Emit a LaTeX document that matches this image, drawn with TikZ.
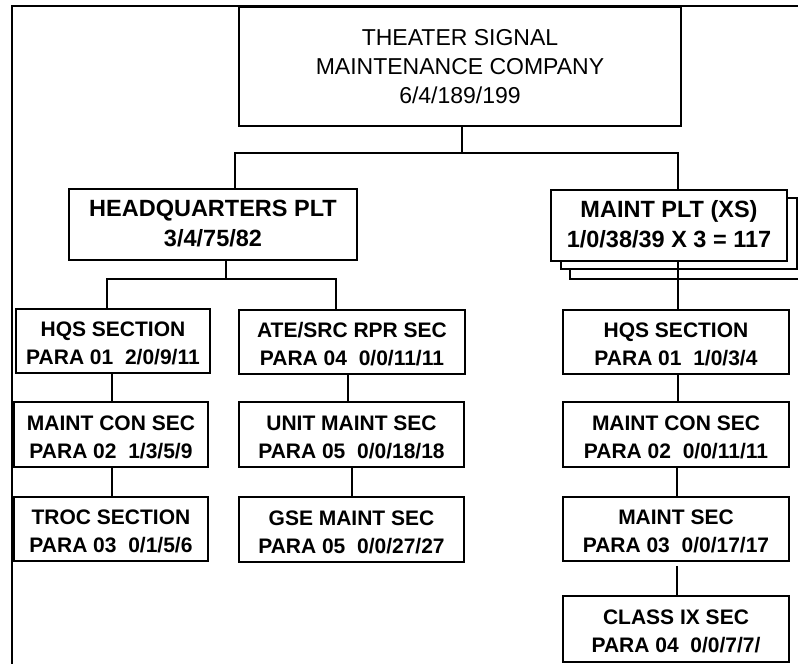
\documentclass[tikz,border=0pt]{standalone}
\usepackage{fontspec}
\setmainfont{Liberation Sans}
\newcommand{\lowtext}[2]{\raisebox{-#1}[\height][\depth]{\begin{tabular}{@{}c@{}}#2\end{tabular}}}
\begin{document}
\begin{tikzpicture}[x=1pt,y=-1pt,
  box/.style={draw=black,line width=1.6pt,fill=white,inner sep=0pt},
  bigtxt/.style={font=\fontsize{23}{29}\selectfont},
  plttxt/.style={font=\fontsize{23.5}{30}\selectfont\bfseries},
  sectxt/.style={font=\fontsize{21}{28}\selectfont\bfseries},
  conn/.style={line width=1.3pt}]
\useasboundingbox (0,0) rectangle (798,664);
\clip (0,0) rectangle (798,664);
% frame
\draw[line width=2pt] (12,670) -- (12,6) -- (804,6);
% top
\node[box,bigtxt,minimum width=442pt,minimum height=119pt] (top) at (460,66.5)
  {\lowtext{2pt}{THEATER SIGNAL\\MAINTENANCE COMPANY\\6/4/189/199}};
% platoons
\node[box,plttxt,minimum width=288pt,minimum height=71pt] (hq) at (213,224.5)
  {\lowtext{1pt}{HEADQUARTERS PLT\\3/4/75/82}};
\draw[line width=1.6pt,fill=white] (570,208) rectangle (806,279);
\draw[line width=1.6pt,fill=white] (561,198) rectangle (797,269);
\node[box,plttxt,minimum width=236pt,minimum height=71pt] (mp) at (669,225.5)
  {\lowtext{1pt}{MAINT PLT (XS)\\1/0/38/39 X 3 = 117}};
% left column
\node[box,sectxt,minimum width=194pt,minimum height=64pt] (hqsa) at (113,341)
  {\lowtext{4pt}{HQS SECTION\\PARA 01\ \ 2/0/9/11}};
\node[box,sectxt,minimum width=194pt,minimum height=65pt] (mcsa) at (111,434.5)
  {\lowtext{4pt}{MAINT CON SEC\\PARA 02\ \ 1/3/5/9}};
\node[box,sectxt,minimum width=194pt,minimum height=64pt] (troc) at (111,529)
  {\lowtext{4pt}{TROC SECTION\\PARA 03\ \ 0/1/5/6}};
% middle column
\node[box,sectxt,minimum width=226pt,minimum height=64pt] (ate) at (352,342)
  {\lowtext{4pt}{ATE/SRC RPR SEC\\PARA 04\ \ 0/0/11/11}};
\node[box,sectxt,minimum width=225pt,minimum height=65pt] (ums) at (351.5,434.5)
  {\lowtext{4pt}{UNIT MAINT SEC\\PARA 05\ \ 0/0/18/18}};
\node[box,sectxt,minimum width=225pt,minimum height=65pt] (gse) at (351.5,529.5)
  {\lowtext{4pt}{GSE MAINT SEC\\PARA 05\ \ 0/0/27/27}};
% right column
\node[box,sectxt,minimum width=226pt,minimum height=64pt] (hqsb) at (676,342)
  {\lowtext{4pt}{HQS SECTION\\PARA 01\ \ 1/0/3/4}};
\node[box,sectxt,minimum width=226pt,minimum height=65pt] (mcsb) at (676,434.5)
  {\lowtext{4pt}{MAINT CON SEC\\PARA 02\ \ 0/0/11/11}};
\node[box,sectxt,minimum width=226pt,minimum height=64pt] (msec) at (676,529)
  {\lowtext{4pt}{MAINT SEC\\PARA 03\ \ 0/0/17/17}};
\node[box,sectxt,minimum width=226pt,minimum height=66pt] (cix) at (676,629)
  {\lowtext{4pt}{CLASS IX SEC\\PARA 04\ \ 0/0/7/7/}};
% connectors
\coordinate (busL) at (235,153);
\coordinate (busR) at (678,153);
\coordinate (busM) at (462,153);
\draw[conn] (top.south -| busM) -- (busM);
\draw[conn] (hq.north -| busL) -- (busL) -- (busR) -- (mp.north -| busR);
\coordinate (hbL) at (107,279);
\coordinate (hbR) at (336,279);
\coordinate (hbM) at (226,279);
\draw[conn] (hq.south -| hbM) -- (hbM);
\draw[conn] (hqsa.north -| hbL) -- (hbL) -- (hbR) -- (ate.north -| hbR);
\coordinate (c1) at (112,0);
\draw[conn] (hqsa.south -| c1) -- (mcsa.north -| c1);
\draw[conn] (mcsa.south -| c1) -- (troc.north -| c1);
\coordinate (c2) at (348,0);
\coordinate (c3) at (352,0);
\draw[conn] (ate.south -| c2) -- (ums.north -| c2);
\draw[conn] (ums.south -| c3) -- (gse.north -| c3);
\coordinate (c4) at (678,0);
\coordinate (c5) at (677,0);
\draw[conn] (mp.south -| c4) -- (hqsb.north -| c4);
\draw[conn] (hqsb.south -| c4) -- (mcsb.north -| c4);
\draw[conn] (mcsb.south -| c5) -- (msec.north -| c5);
\draw[conn,shorten <=4pt] (msec.south -| c5) -- (cix.north -| c5);
\end{tikzpicture}
\end{document}
